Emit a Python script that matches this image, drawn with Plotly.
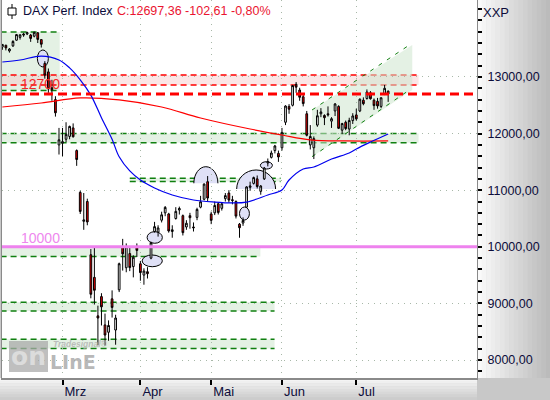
"""DAX daily candles with trading zones, recreated in Plotly."""

import plotly.graph_objects as go

# --- data -------------------------------------------------------------------
dates = [
    "2020-02-06", "2020-02-07",
    "2020-02-10", "2020-02-11", "2020-02-12", "2020-02-13", "2020-02-14",
    "2020-02-17", "2020-02-18", "2020-02-19", "2020-02-20", "2020-02-21",
    "2020-02-24", "2020-02-25", "2020-02-26", "2020-02-27", "2020-02-28",
    "2020-03-02", "2020-03-03", "2020-03-04", "2020-03-05", "2020-03-06",
    "2020-03-09", "2020-03-10", "2020-03-11", "2020-03-12", "2020-03-13",
    "2020-03-16", "2020-03-17", "2020-03-18", "2020-03-19", "2020-03-20",
    "2020-03-23", "2020-03-24", "2020-03-25", "2020-03-26", "2020-03-27",
    "2020-03-30", "2020-03-31",
    "2020-04-01", "2020-04-02", "2020-04-03",
    "2020-04-06", "2020-04-07", "2020-04-08", "2020-04-09",
    "2020-04-14", "2020-04-15", "2020-04-16", "2020-04-17",
    "2020-04-20", "2020-04-21", "2020-04-22", "2020-04-23", "2020-04-24",
    "2020-04-27", "2020-04-28", "2020-04-29", "2020-04-30",
    "2020-05-04", "2020-05-05", "2020-05-06", "2020-05-07", "2020-05-08",
    "2020-05-11", "2020-05-12", "2020-05-13", "2020-05-14", "2020-05-15",
    "2020-05-18", "2020-05-19", "2020-05-20", "2020-05-21", "2020-05-22",
    "2020-05-25", "2020-05-26", "2020-05-27", "2020-05-28", "2020-05-29",
    "2020-06-02", "2020-06-03", "2020-06-04", "2020-06-05",
    "2020-06-08", "2020-06-09", "2020-06-10", "2020-06-11", "2020-06-12",
    "2020-06-15", "2020-06-16", "2020-06-17", "2020-06-18", "2020-06-19",
    "2020-06-22", "2020-06-23", "2020-06-24", "2020-06-25", "2020-06-26",
    "2020-06-29", "2020-06-30",
    "2020-07-01", "2020-07-02", "2020-07-03",
    "2020-07-06", "2020-07-07", "2020-07-08", "2020-07-09", "2020-07-10",
    "2020-07-13", "2020-07-14",
]

opens = [
    13530, 13560,
    13460, 13550, 13650, 13700, 13760,
    13760, 13740, 13720, 13780, 13660,
    13240, 13090, 12810, 12600, 11800,
    11830, 11900, 11950, 12100, 11700,
    10960, 10450, 10800, 9860, 9460,
    8780, 9120, 8620, 8490, 9080,
    8530, 9240, 10000, 9630, 9880,
    9650, 10010,
    9700, 9500, 9560,
    9800, 10270, 10260, 10470,
    10600, 10580, 10270, 10500,
    10650, 10550, 10350, 10550, 10350,
    10520, 10700, 10840, 11150,
    10580, 10600, 10760, 10680, 10850,
    10950, 10830, 10800, 10400, 10420,
    10700, 11050, 11120, 11200, 10980,
    11200, 11480, 11580, 11700, 11650,
    11750, 12200, 12480, 12500,
    12870, 12770, 12650, 12350, 11800,
    11750, 12150, 12350, 12320, 12350,
    12220, 12400, 12480, 12060, 12200,
    12080, 12230,
    12330, 12400, 12590,
    12620, 12720, 12590, 12570, 12480,
    12690, 12750,
]

highs = [
    13580, 13570,
    13510, 13650, 13760, 13750, 13780,
    13800, 13760, 13800, 13795, 13670,
    13280, 13150, 12950, 12660, 12100,
    12100, 12200, 12140, 12180, 11720,
    10990, 10950, 10850, 9960, 9990,
    8960, 9180, 8820, 8700, 9230,
    8800, 9720, 10140, 10060, 9980,
    9850, 10060,
    9750, 9620, 9640,
    10090, 10440, 10380, 10620,
    10720, 10600, 10380, 10700,
    10710, 10570, 10470, 10600, 10430,
    10690, 10900, 11120, 11250,
    10620, 10800, 10790, 10780, 10950,
    11000, 10900, 10820, 10420, 10520,
    11070, 11150, 11240, 11260, 11090,
    11410, 11560, 11700, 11800, 11700,
    12100, 12500, 12520, 12860,
    12910, 12810, 12700, 12400, 12150,
    11950, 12420, 12450, 12340, 12480,
    12290, 12540, 12500, 12190, 12230,
    12280, 12360,
    12440, 12620, 12640,
    12780, 12750, 12620, 12630, 12640,
    12860, 12760,
]

lows = [
    13480, 13470,
    13430, 13530, 13640, 13660, 13710,
    13740, 13620, 13700, 13600, 13520,
    12970, 12720, 12580, 12300, 11630,
    11600, 11850, 11900, 11930, 11430,
    10580, 10300, 10380, 9090, 8980,
    8260, 8610, 8255, 8340, 8750,
    8270, 9200, 9580, 9550, 9570,
    9460, 9820,
    9400, 9330, 9440,
    9780, 10250, 10180, 10430,
    10540, 10250, 10160, 10480,
    10570, 10200, 10300, 10320, 10270,
    10470, 10680, 10820, 10800,
    10400, 10560, 10570, 10640, 10800,
    10780, 10750, 10500, 10160, 10370,
    10690, 10990, 11100, 11030, 10920,
    11180, 11420, 11560, 11650, 11500,
    11700, 12150, 12350, 12480,
    12720, 12580, 12480, 11950, 11720,
    11550, 12120, 12290, 12150, 12300,
    12100, 12310, 12080, 11990, 12060,
    11970, 12170,
    12230, 12380, 12500,
    12600, 12600, 12420, 12440, 12450,
    12680, 12560,
]

closes = [
    13575, 13514,
    13494, 13627, 13749, 13745, 13744,
    13783, 13681, 13789, 13664, 13579,
    13035, 12790, 12775, 12367, 11890,
    11857, 11986, 12127, 11944, 11542,
    10625, 10475, 10439, 9161, 9232,
    8742, 8939, 8441, 8610, 8929,
    8742, 9701, 9875, 10001, 9633,
    9815, 9936,
    9544, 9571, 9525,
    10075, 10356, 10333, 10565,
    10696, 10280, 10301, 10626,
    10676, 10250, 10416, 10514, 10337,
    10660, 10796, 11108, 10862,
    10467, 10730, 10607, 10760, 10904,
    10825, 10820, 10542, 10337, 10465,
    11058, 11075, 11223, 11065, 11074,
    11392, 11504, 11657, 11781, 11587,
    12021, 12487, 12431, 12848,
    12820, 12642, 12530, 11970, 11949,
    11911, 12315, 12382, 12281, 12331,
    12263, 12523, 12093, 12177, 12089,
    12232, 12311,
    12260, 12608, 12528,
    12734, 12616, 12495, 12489, 12633,
    12800, 12697,
]

assert len(dates) == len(opens) == len(highs) == len(lows) == len(closes)

# moving averages
ma_slow_dates = ["2020-02-06", "2020-02-21", "2020-03-09", "2020-03-24", "2020-04-09",
                 "2020-04-28", "2020-05-19", "2020-06-02", "2020-06-12", "2020-06-26",
                 "2020-07-14"]
ma_slow_values = [12470, 12540, 12630, 12595, 12470, 12276, 12081, 11975, 11890, 11870,
                  11870]

ma_fast_dates = ["2020-02-06", "2020-02-13", "2020-02-21", "2020-02-28", "2020-03-04",
                 "2020-03-09", "2020-03-12", "2020-03-17", "2020-03-20", "2020-03-24",
                 "2020-03-27", "2020-04-01", "2020-04-07", "2020-04-16", "2020-04-24",
                 "2020-05-05", "2020-05-12", "2020-05-18", "2020-05-26", "2020-06-02",
                 "2020-06-04", "2020-06-10", "2020-06-15", "2020-06-22", "2020-06-29",
                 "2020-07-01", "2020-07-07", "2020-07-14"]
ma_fast_values = [13265, 13300, 13370, 13300, 13160, 12950, 12680, 12280, 11900, 11590,
                  11340, 11180, 11040, 10915, 10827, 10790, 10775, 10790, 10915, 11003,
                  11180, 11375, 11410, 11550, 11657, 11728, 11850, 11993]

# zones: upper / lower bound
zone_tops = [13795, 13035, 12000, 11210, 10000, 9020, 8365]
zone_bottoms = [12760, 12860, 11840, 11155, 9830, 8865, 8205]
resistance_level = 12700
round_level = 10000
channel_upper = [12417, 13565]
channel_lower = [11592, 12770]

price_ticks = [8000, 9000, 10000, 11000, 12000, 13000]
month_ticks = ["2020-03-02", "2020-04-01", "2020-05-04", "2020-06-02", "2020-07-01"]
month_labels = ["Mrz", "Apr", "Mai", "Jun", "Jul"]

# --- layout helpers -----------------------------------------------------------
FONT = "Liberation Sans, Arial, sans-serif"
TEXT_DARK = "#0c0c3a"
GREEN_LINE = "#108010"
X_RANGE = [-0.1, 134.1]
Y_RANGE = [7682, 14360]


def px_x(px):
    return (px - 2) / 475


def px_y(py):
    return 1 - py / 378


fig = go.Figure()

fig.add_trace(go.Candlestick(
    x=dates, open=opens, high=highs, low=lows, close=closes,
    increasing=dict(fillcolor="white", line=dict(color="black", width=1)),
    decreasing=dict(fillcolor="#ee0000", line=dict(color="black", width=1)),
    whiskerwidth=0, hoverinfo="skip", showlegend=False,
))
fig.add_trace(go.Scatter(
    x=ma_slow_dates, y=ma_slow_values, mode="lines",
    line=dict(color="#ff0000", width=1.2, shape="spline"), hoverinfo="skip",
))
fig.add_trace(go.Scatter(
    x=ma_fast_dates, y=ma_fast_values, mode="lines",
    line=dict(color="#0000ee", width=1.2, shape="spline"), hoverinfo="skip",
))

shapes = []

# background gradients outside the plot area
for k in range(16):
    g = int(250 - k * 4.2)
    shapes.append(dict(type="rect", xref="paper", yref="paper", layer="below",
                       x0=px_x(477 + k * 4.6), x1=px_x(477 + (k + 1) * 4.6 + 0.5),
                       y0=0, y1=1, line_width=0, fillcolor=f"rgb({g},{g},{g})"))
for k in range(8):
    g = int(246 - k * 6)
    shapes.append(dict(type="rect", xref="paper", yref="paper", layer="below",
                       x0=px_x(0), x1=1, y0=px_y(378 + k * 2.75),
                       y1=px_y(378 + (k + 1) * 2.75 + 0.3),
                       line_width=0, fillcolor=f"rgb({g},{g},{g})"))

# horizontal zones
zone_x = [(-0.5, 16.2), (-0.5, 117.6), (-0.5, 117.6), (36, 78.6),
          (-0.5, 72.9), (-0.5, 76.9), (-0.5, 76.9)]
for i, (top, bottom) in enumerate(zip(zone_tops, zone_bottoms)):
    x0, x1 = zone_x[i]
    pink = i == 1
    fill = "rgba(246,200,200,0.45)" if pink else "rgba(205,230,205,0.55)"
    edge = "#ff0000" if pink else GREEN_LINE
    shapes.append(dict(type="rect", xref="x", yref="y", layer="below",
                       x0=x0, x1=x1, y0=bottom, y1=top, line_width=0, fillcolor=fill))
    for lvl in (top, bottom):
        shapes.append(dict(type="line", xref="x", yref="y", layer="below",
                           x0=x0, x1=x1, y0=lvl, y1=lvl,
                           line=dict(color=edge, width=1.5, dash="6px,4px")))

# trend channel
cx0, cx1 = 87.5, 115.8
shapes.append(dict(
    type="path", xref="x", yref="y", layer="below", line_width=0,
    fillcolor="rgba(205,230,205,0.55)",
    path=(f"M {cx0},{channel_upper[0]} L {cx1},{channel_upper[1]} "
          f"L {cx1},{channel_lower[1]} L {cx0},{channel_lower[0]} Z"),
))
for vals in (channel_upper, channel_lower):
    shapes.append(dict(type="line", xref="x", yref="y", layer="below",
                       x0=cx0, x1=cx1 - 0.8, y0=vals[0], y1=vals[1],
                       line=dict(color=GREEN_LINE, width=1, dash="4px,6px")))

# ellipses and domes
ELL_FILL = "#dfe0f6"
ellipses = [(9.9, 13.0, 13177, 13477), (67.0, 69.8, 10473, 10703),
            (72.9, 76.3, 11374, 11503), (40.9, 45.2, 10062, 10267),
            (39.5, 45.2, 9648, 9855)]
for x0, x1, y0, y1 in ellipses:
    shapes.append(dict(type="circle", xref="x", yref="y", layer="below",
                       x0=x0, x1=x1, y0=y0, y1=y1, fillcolor=ELL_FILL,
                       line=dict(color="black", width=1)))


def dome(x0, x1, base, top):
    k = 0.5523
    xm, hw, h = (x0 + x1) / 2, (x1 - x0) / 2, top - base
    return (f"M {x0},{base} C {x0},{base + k * h} {xm - k * hw},{top} {xm},{top} "
            f"C {xm + k * hw},{top} {x1},{base + k * h} {x1},{base}")


for x0, x1, base, top in [(54.1, 60.9, 11122, 11415), (66.2, 77.2, 11021, 11357)]:
    shapes.append(dict(type="path", xref="x", yref="y", layer="below",
                       path=dome(x0, x1, base, top), fillcolor=ELL_FILL,
                       line=dict(color="black", width=1)))

# key levels
shapes.append(dict(type="line", xref="paper", yref="y", layer="above",
                   x0=0, x1=1, y0=round_level, y1=round_level,
                   line=dict(color="#ee82ee", width=3)))
shapes.append(dict(type="line", xref="paper", yref="y", layer="above",
                   x0=0, x1=1, y0=resistance_level, y1=resistance_level,
                   line=dict(color="#ff0000", width=3, dash="9px,5px")))

# header candle icon
shapes.append(dict(type="line", xref="paper", yref="paper", layer="above",
                   x0=px_x(12), x1=px_x(12), y0=px_y(4), y1=px_y(19),
                   line=dict(color="black", width=1)))
shapes.append(dict(type="rect", xref="paper", yref="paper", layer="above",
                   x0=px_x(8), x1=px_x(16), y0=px_y(8), y1=px_y(15),
                   fillcolor="white", line=dict(color="black", width=1)))

# watermark box
shapes.append(dict(type="rect", xref="paper", yref="paper", layer="above",
                   x0=px_x(9), x1=px_x(48), y0=px_y(341), y1=px_y(372),
                   fillcolor="#a9a9a9", opacity=0.75, line_width=0))

annotations = [
    dict(text="DAX Perf. Index", x=px_x(21), y=px_y(11), xanchor="left",
         font=dict(size=12.5, color=TEXT_DARK)),
    dict(text="C:12697,36 -102,61 -0,80%", x=px_x(115), y=px_y(11), xanchor="left",
         font=dict(size=12.5, color="#ea1430")),
    dict(text="XXP", x=px_x(481), y=px_y(12), xanchor="left",
         font=dict(size=13, color=TEXT_DARK)),
    dict(text="12700", x=px_x(19), y=px_y(84), xanchor="left",
         font=dict(size=14, color="#f22a2a")),
    dict(text="10000", x=px_x(19), y=px_y(238), xanchor="left",
         font=dict(size=14, color="#ee88ee")),
    dict(text="<b>on</b>", x=px_x(28.5), y=px_y(356), xanchor="center",
         font=dict(size=25, color="#dcdcdc", family="DejaVu Sans")),
    dict(text="<b>LInE</b>", x=px_x(48), y=px_y(362), xanchor="left",
         font=dict(size=19, color="rgba(165,165,165,0.8)", family="DejaVu Sans")),
    dict(text="<b><i>Tradesignal®</i></b>", x=px_x(51), y=px_y(344), xanchor="left",
         font=dict(size=8.5, color="rgba(175,175,175,0.8)")),
]
for a in annotations:
    a.update(xref="paper", yref="paper", yanchor="middle", showarrow=False)

fig.update_layout(
    width=550, height=400,
    margin=dict(l=2, r=73, t=0, b=22),
    paper_bgcolor="#c8c8c8", plot_bgcolor="white",
    font=dict(family=FONT, color=TEXT_DARK, size=12),
    separators=",.",
    showlegend=False,
    shapes=shapes,
    annotations=annotations,
    xaxis=dict(
        type="category", range=X_RANGE, rangeslider=dict(visible=False),
        automargin=False,
        tickvals=month_ticks, ticktext=month_labels,
        ticks="outside", ticklen=5, tickwidth=2, tickcolor="black",
        ticklabelposition="outside right",
        tickfont=dict(size=13, color=TEXT_DARK),
        showgrid=True, gridcolor="#a8b8a8", griddash="1px,5px", gridwidth=1,
        showline=True, linecolor="#8a8a8a", linewidth=2,
        zeroline=False, fixedrange=True,
    ),
    yaxis=dict(
        side="right", range=Y_RANGE, automargin=False,
        tickvals=price_ticks, tickformat=".2f",
        ticks="outside", ticklen=4, tickwidth=2, tickcolor="black",
        ticklabelstandoff=3,
        tickfont=dict(size=12.5, color=TEXT_DARK),
        minor=dict(dtick=200, tick0=0, ticks="outside", ticklen=4, tickwidth=2,
                   tickcolor="black", showgrid=False),
        showgrid=True, gridcolor="#a8b8a8", griddash="1px,5px", gridwidth=1,
        showline=True, linecolor="#8a8a8a", linewidth=1, mirror=True,
        zeroline=False, fixedrange=True,
    ),
)

# the page body has a default 8px margin; drop it so the figure sits at 0,0
fig.write_html("out.html", config={"displayModeBar": False},
               post_script="document.body.style.margin = '0';")
